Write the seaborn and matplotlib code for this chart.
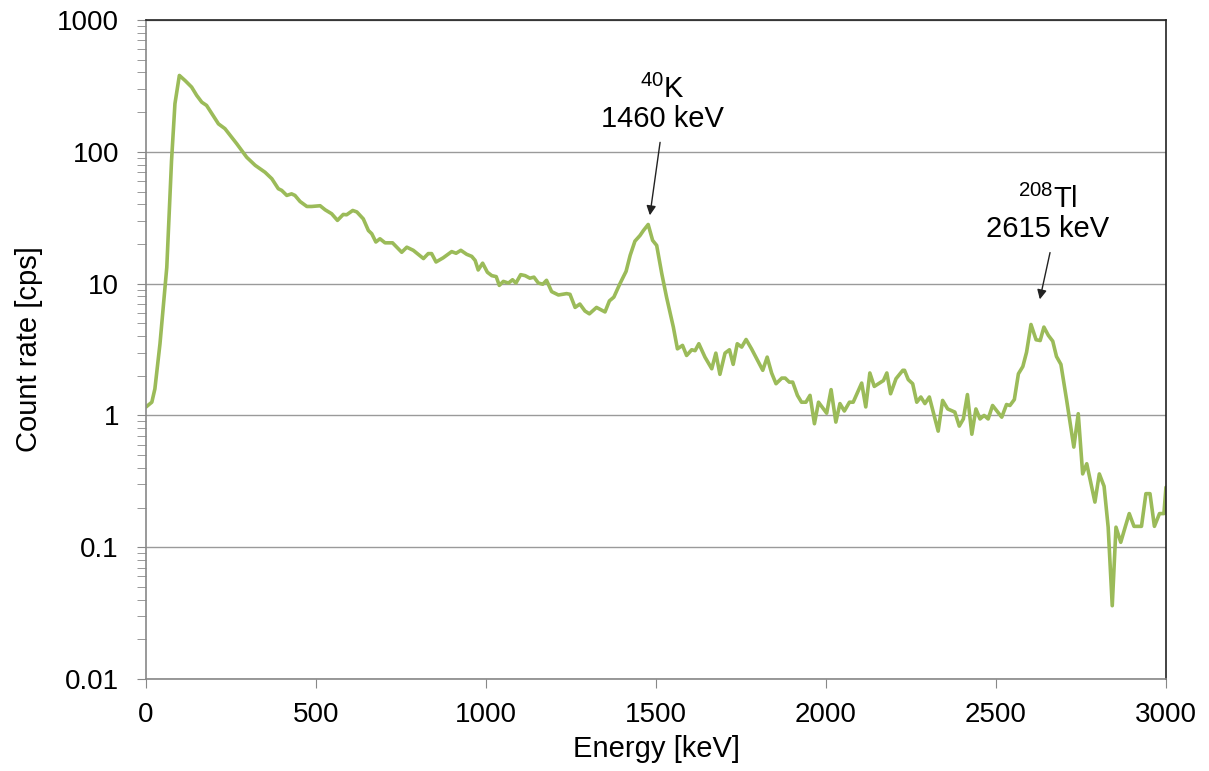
import numpy as np
import pandas as pd
import matplotlib
matplotlib.use('Agg')
import matplotlib.pyplot as plt
import matplotlib.ticker as mticker
import seaborn as sns

# Gamma spectrum (energy in keV, count rate in cps)
energy = [0, 17, 26, 41, 61, 75, 85, 98, 115, 134, 149, 164, 178, 213, 232, 267, 296, 321,
          350, 370, 389, 399, 414, 428, 438, 453, 473, 487, 512, 527, 546, 563, 580, 590,
          608, 620, 639, 654, 664, 676, 688, 703, 725, 752, 767, 786, 816, 830, 840, 853,
          874, 899, 912, 926, 943, 958, 968, 977, 990, 1004, 1017, 1030, 1039, 1051, 1066,
          1078, 1088, 1102, 1115, 1129, 1141, 1154, 1167, 1178, 1193, 1213, 1237, 1247,
          1262, 1276, 1291, 1304, 1325, 1350, 1363, 1376, 1394, 1412, 1424, 1438, 1453,
          1463, 1477, 1490, 1502, 1517, 1531, 1551, 1563, 1578, 1590, 1605, 1615, 1626,
          1644, 1664, 1676, 1688, 1703, 1716, 1727, 1739, 1752, 1765, 1781, 1814, 1827,
          1840, 1853, 1870, 1880, 1892, 1902, 1916, 1928, 1941, 1953, 1966, 1978, 2002,
          2015, 2029, 2041, 2054, 2069, 2080, 2105, 2117, 2129, 2142, 2169, 2179, 2190,
          2206, 2226, 2231, 2242, 2255, 2267, 2279, 2291, 2304, 2330, 2343, 2358, 2379,
          2392, 2404, 2416, 2429, 2441, 2453, 2465, 2477, 2490, 2517, 2531, 2541, 2554,
          2566, 2579, 2590, 2603, 2618, 2630, 2641, 2654, 2667, 2678, 2691, 2708, 2729,
          2742, 2755, 2767, 2791, 2804, 2818, 2830, 2842, 2853, 2867, 2880, 2892, 2906,
          2928, 2941, 2953, 2966, 2981, 2994, 3000]
count_rate = [1.16, 1.26, 1.59, 3.5, 13.3, 86, 232, 380, 347, 310, 268, 238, 225, 163, 150,
              115, 91, 79, 70, 62.5, 52.5, 51, 46.7, 48, 46.7, 42, 38.5, 38.5, 39, 36.3,
              33.9, 30.2, 33.5, 33.3, 35.9, 35, 31, 25.3, 23.9, 20.7, 21.9, 20.4, 20.4,
              17.3, 18.9, 17.9, 15.5, 16.9, 16.9, 14.6, 15.7, 17.5, 17.0, 17.9, 16.7, 16.1,
              15.0, 12.7, 14.3, 12.2, 11.5, 11.3, 9.7, 10.4, 10.1, 10.7, 10.1, 11.7, 11.5,
              11.0, 11.2, 10.1, 9.9, 10.6, 8.7, 8.2, 8.4, 8.3, 6.6, 7.0, 6.2, 5.9, 6.6,
              6.1, 7.4, 7.9, 10.0, 12.4, 16.4, 21.0, 23.2, 25.3, 28.1, 21.3, 19.5, 11.9,
              7.9, 4.68, 3.2, 3.4, 2.85, 3.15, 3.1, 3.5, 2.77, 2.26, 2.97, 2.05, 2.97,
              3.15, 2.44, 3.5, 3.3, 3.77, 3.2, 2.2, 2.77, 2.1, 1.74, 1.92, 1.92, 1.79,
              1.79, 1.42, 1.26, 1.26, 1.42, 0.865, 1.26, 1.04, 1.57, 0.89, 1.23, 1.08,
              1.26, 1.26, 1.76, 1.16, 2.1, 1.66, 1.84, 2.1, 1.46, 1.9, 2.2, 2.2, 1.87,
              1.74, 1.26, 1.38, 1.23, 1.38, 0.76, 1.3, 1.12, 1.06, 0.83, 0.94, 1.44, 0.72,
              1.12, 0.94, 1.0, 0.94, 1.19, 0.97, 1.21, 1.19, 1.32, 2.07, 2.35, 3.02, 4.9,
              3.75, 3.7, 4.68, 4.05, 3.66, 2.8, 2.44, 1.3, 0.575, 1.03, 0.36, 0.43, 0.22,
              0.36, 0.29, 0.142, 0.036, 0.142, 0.109, 0.142, 0.18, 0.144, 0.144, 0.255,
              0.255, 0.144, 0.18, 0.18, 0.285]

# Peak annotations: label, text anchor (keV, cps), arrow tail and tip (keV, cps)
peak_labels = [r'$^{40}$K' + '\n1460 keV', r'$^{208}$Tl' + '\n2615 keV']
peak_text = [(1518, 140), (2653, 20.5)]
peak_tail = [(1512, 118), (2659, 17.2)]
peak_tip = [(1482, 33), (2629, 7.6)]

df = pd.DataFrame({'energy': energy, 'rate': count_rate})

sns.set_style('white')
plt.rcParams['font.family'] = ['Liberation Sans', 'DejaVu Sans']
plt.rcParams['mathtext.fontset'] = 'custom'
plt.rcParams['mathtext.rm'] = 'Liberation Sans'
plt.rcParams['text.color'] = 'black'
plt.rcParams['axes.labelcolor'] = 'black'
plt.rcParams['xtick.color'] = 'black'
plt.rcParams['ytick.color'] = 'black'

fig = plt.figure(figsize=(12.09, 7.71), dpi=100)
ax = fig.add_axes([0.1208, 0.1193, 0.8436, 0.8547])

sns.lineplot(data=df, x='energy', y='rate', color='#9BBB59', linewidth=2.6, ax=ax)

ax.set_yscale('log')
ax.set_xlim(0, 3000)
ax.set_ylim(0.01, 1000)
ax.xaxis.set_major_locator(mticker.MultipleLocator(500))
ax.yaxis.set_major_locator(mticker.LogLocator(base=10, numticks=10))
ax.yaxis.set_major_formatter(mticker.FuncFormatter(lambda v, p: f'{v:g}'))
ax.yaxis.set_minor_locator(mticker.LogLocator(base=10, subs=np.arange(2, 10), numticks=20))
ax.yaxis.set_minor_formatter(mticker.NullFormatter())

ax.grid(axis='y', which='major', color='#9a9a9a', linewidth=1.0)
ax.grid(axis='x', visible=False)
ax.tick_params(axis='both', which='major', labelsize=20, length=6.5, color='#888888',
               direction='out', left=True, bottom=True)
ax.tick_params(axis='y', which='minor', length=6.5, color='#888888', direction='out', left=True)
ax.tick_params(axis='x', pad=10)
ax.tick_params(axis='y', pad=13)

for side in ['left', 'bottom']:
    ax.spines[side].set_color('#888888')
    ax.spines[side].set_linewidth(1.2)
for side in ['top', 'right']:
    ax.spines[side].set_color('#222222')
    ax.spines[side].set_linewidth(1.2)

ax.set_xlabel('Energy [keV]', fontsize=21, labelpad=5)
ax.set_ylabel('Count rate [cps]', fontsize=21, labelpad=10)

for label, txt, tail, tip in zip(peak_labels, peak_text, peak_tail, peak_tip):
    ax.text(txt[0], txt[1], label, ha='center', va='bottom', fontsize=21, linespacing=1.02)
    ax.annotate('', xy=tip, xytext=tail,
                arrowprops=dict(arrowstyle='-|>', color='#222222', lw=1.0,
                                mutation_scale=14, shrinkA=0, shrinkB=0))

fig.savefig('out.png', dpi=100)
